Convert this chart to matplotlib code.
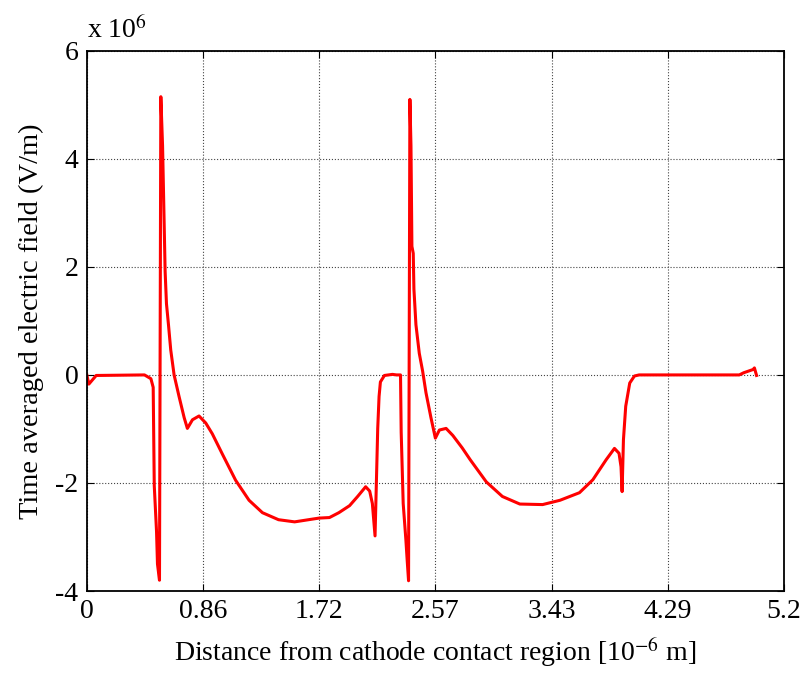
import numpy as np
import matplotlib
matplotlib.use('Agg')
import matplotlib.pyplot as plt

plt.rcParams['font.family'] = 'Liberation Serif'
plt.rcParams['mathtext.fontset'] = 'stix'

# distance [1e-6 m] and time averaged field [1e6 V/m]
dist = [0.0, 0.015, 0.07, 0.43, 0.478, 0.495, 0.503, 0.52, 0.527, 0.542,
        0.552, 0.565, 0.577, 0.584, 0.594, 0.609, 0.626, 0.651, 0.688, 0.726,
        0.750, 0.788, 0.837, 0.887, 0.936, 1.01, 1.11, 1.21, 1.31, 1.43,
        1.55, 1.68, 1.733, 1.81, 1.88, 1.96, 2.02, 2.08, 2.11, 2.13,
        2.15, 2.16, 2.17, 2.18, 2.19, 2.22, 2.28, 2.31, 2.34, 2.345,
        2.36, 2.38, 2.39, 2.40, 2.41, 2.418, 2.425, 2.435, 2.44, 2.455,
        2.48, 2.505, 2.53, 2.567, 2.60, 2.63, 2.68, 2.73, 2.80, 2.86,
        2.98, 3.10, 3.23, 3.40, 3.53, 3.675, 3.775, 3.874, 3.936, 3.97,
        3.985, 3.993, 4.003, 4.02, 4.05, 4.085, 4.12, 4.867, 4.90, 4.97,
        4.98, 4.996]
field = [0.0, -0.17, -0.01, 0.0, -0.07, -0.23, -2.05, -2.9, -3.5, -3.8,
         5.15, 4.24, 2.78, 1.92, 1.32, 0.93, 0.46, 0.0, -0.40, -0.79,
         -0.99, -0.83, -0.76, -0.89, -1.09, -1.46, -1.95, -2.32, -2.55, -2.68,
         -2.72, -2.67, -2.65, -2.64, -2.55, -2.42, -2.25, -2.07, -2.15, -2.38,
         -2.98, -1.99, -0.99, -0.40, -0.13, -0.01, 0.01, 0.0, 0.0, -1.06,
         -2.38, -3.05, -3.44, -3.81, 5.1, 4.24, 2.38, 2.25, 1.59, 0.93,
         0.40, 0.07, -0.33, -0.79, -1.17, -1.02, -0.99, -1.12, -1.35, -1.57,
         -1.98, -2.25, -2.39, -2.40, -2.32, -2.18, -1.94, -1.57, -1.36, -1.45,
         -1.70, -2.16, -1.20, -0.58, -0.15, -0.02, 0.0, 0.0, 0.04, 0.10,
         0.13, -0.01]

xticks = np.linspace(0, 5.2, 7)
xlabels = ['0', '0.86', '1.72', '2.57', '3.43', '4.29', '5.2']
yticks = [-4, -2, 0, 2, 4, 6]

fig = plt.figure(figsize=(8.04, 6.77), dpi=100)
ax = fig.add_axes([0.108, 0.127, 0.867, 0.798])

ax.plot(dist, field, color='red', lw=2.2)

ax.set_xlim(0, 5.2)
ax.set_ylim(-4, 6)
ax.set_xticks(xticks)
ax.set_xticklabels(xlabels)
ax.set_yticks(yticks)
ax.set_yticklabels([str(v) for v in yticks])
ax.tick_params(direction='in', top=True, right=True, labelsize=20, length=5, pad=6)
ax.grid(True, color='#444444', linestyle=':', lw=0.8)
for s in ax.spines.values():
    s.set_linewidth(1.3)

ax.set_xlabel('Distance from cathode contact region [10$^{-6}$ m]', fontsize=20, labelpad=8)
ax.set_ylabel('Time averaged electric field (V/m)', fontsize=20.5, labelpad=8)
ax.text(0.0, 1.012, 'x 10$^{6}$', transform=ax.transAxes, fontsize=20,
        ha='left', va='bottom')

fig.savefig('out.png', dpi=100)
